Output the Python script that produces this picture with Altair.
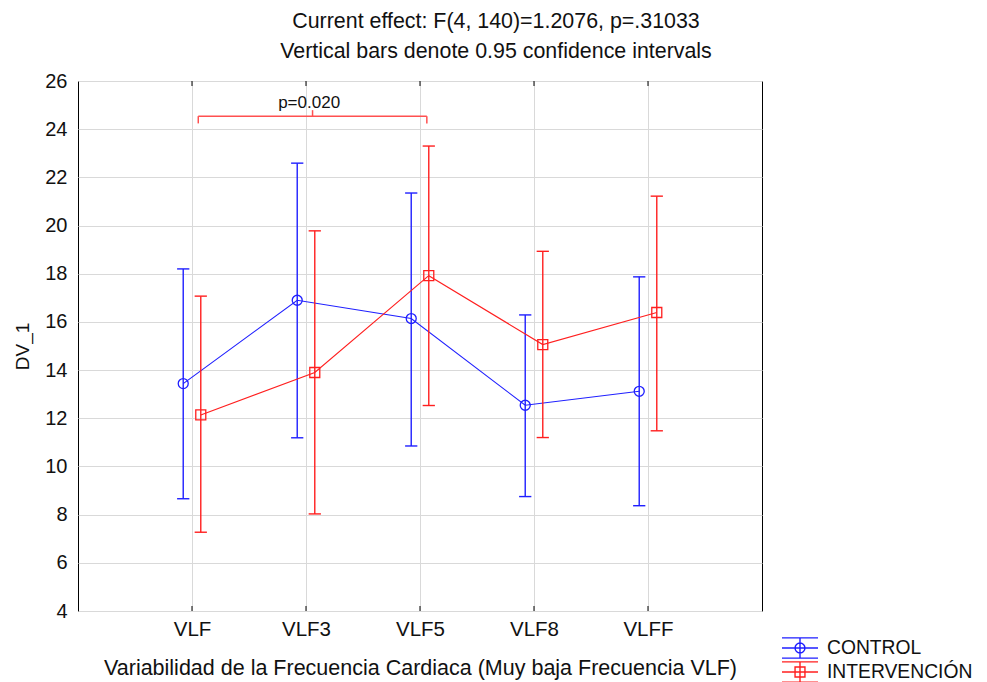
import altair as alt
import pandas as pd

# ---------------- data ----------------
categories = ["VLF", "VLF3", "VLF5", "VLF8", "VLFF"]
groups = ["CONTROL", "INTERVENCIÓN"]

control_mean = [13.44, 16.90, 16.14, 12.54, 13.12]
control_low = [8.66, 11.19, 10.85, 8.75, 8.37]
control_high = [18.20, 22.59, 21.35, 16.29, 17.87]

interv_mean = [12.14, 13.90, 17.92, 15.06, 16.39]
interv_low = [7.27, 8.03, 12.53, 11.20, 11.48]
interv_high = [17.07, 19.78, 23.30, 18.93, 21.22]

y_ticks = [4, 6, 8, 10, 12, 14, 16, 18, 20, 22, 24, 26]

bracket_from = "VLF"
bracket_to = "VLF5"
bracket_level = 24.54
bracket_label = "p=0.020"

title_lines = ["Current effect: F(4, 140)=1.2076, p=.31033",
               "Vertical bars denote 0.95 confidence intervals"]
x_title = "Variabilidad de la Frecuencia Cardiaca (Muy baja Frecuencia VLF)"
y_title = "DV_1"

# ---------------- styling ----------------
FONT = "Liberation Sans"
BLUE = "#1f1fff"
RED = "#ff1f1f"
DODGE = 0.077
TXT = "#111111"

rows = []
for g, means, lows, highs, off in [
    (groups[0], control_mean, control_low, control_high, -DODGE),
    (groups[1], interv_mean, interv_low, interv_high, DODGE),
]:
    for i, c in enumerate(categories):
        rows.append({"group": g, "cat": c, "pos": i + 1 + off,
                     "mean": means[i], "low": lows[i], "high": highs[i]})
df = pd.DataFrame(rows)

n = len(categories)
x_scale = alt.Scale(domain=[0, n + 1], nice=False, zero=False)
y_scale = alt.Scale(domain=[y_ticks[0], y_ticks[-1]], nice=False, zero=False)
color_scale = alt.Scale(domain=groups, range=[BLUE, RED])

label_expr = "[" + ",".join(["''"] + [f"'{c}'" for c in categories] + ["''"]) + "][datum.value]"

x_enc = alt.X("pos:Q", scale=x_scale,
              axis=alt.Axis(values=list(range(1, n + 1)), labelExpr=label_expr,
                            title=x_title, grid=True, ticks=False, domain=False,
                            labelFontSize=20.5, titleFontSize=21.5,
                            labelPadding=8, titlePadding=18))
y_enc = alt.Y("mean:Q", scale=y_scale,
              axis=alt.Axis(values=y_ticks, title=y_title, grid=True, ticks=False,
                            domain=False, labelFontSize=20, titleFontSize=19,
                            labelPadding=11, titlePadding=12))

layers = []
group_style = [(groups[0], BLUE, "circle"), (groups[1], RED, "square")]
for gi, (g, col, shp) in enumerate(group_style):
    gbase = alt.Chart(df).transform_filter(alt.datum.group == g)
    line = gbase.mark_line(color=col, strokeWidth=1.1)
    line = line.encode(x=x_enc, y=y_enc) if gi == 0 else line.encode(x="pos:Q", y="mean:Q")
    bar = gbase.mark_rule(color=col, strokeWidth=1.4).encode(x="pos:Q", y="low:Q", y2="high:Q")
    cap_lo = gbase.mark_point(shape="M-1,0H1", size=150, color=col, strokeWidth=1.4,
                              opacity=1).encode(x="pos:Q", y="low:Q")
    cap_hi = gbase.mark_point(shape="M-1,0H1", size=150, color=col, strokeWidth=1.4,
                              opacity=1).encode(x="pos:Q", y="high:Q")
    mk = gbase.mark_point(shape=shp, size=100, color=col, strokeWidth=1.3, filled=False,
                          opacity=1).encode(x="pos:Q", y="mean:Q")
    layers += [line, bar, cap_lo, cap_hi, mk]

# legend layer (invisible marks, legend carries the symbols)
sym_ctrl = ("M-2,-1.12H2M-2,1.12H2M0,-1.12V1.12M-2,0H2"
            "M-0.55,0A0.55,0.55 0 1,0 0.55,0A0.55,0.55 0 1,0 -0.55,0")
sym_int = ("M-2,-1.12H2M-2,1.12H2M0,-1.12V1.12M-2,0H2"
           "M-0.55,-0.55H0.55V0.55H-0.55Z")
legend = alt.Legend(title=None, orient="none", legendX=703, legendY=555,
                    symbolSize=324, symbolStrokeWidth=1.4, symbolOpacity=1,
                    symbolFillColor="transparent", clipHeight=24, symbolOffset=9,
                    labelFont=FONT, labelFontSize=19.3, labelColor=TXT,
                    labelOffset=17, rowPadding=0, padding=0)
leg_layer = alt.Chart(df).transform_filter(alt.datum.cat == categories[0]).mark_point(
    opacity=0, filled=False).encode(
    x="pos:Q", y="mean:Q",
    color=alt.Color("group:N", scale=color_scale, legend=legend),
    shape=alt.Shape("group:N", scale=alt.Scale(domain=groups, range=[sym_ctrl, sym_int]),
                    legend=legend))
layers.append(leg_layer)

# inward tick marks on bottom and top borders
tick_df = pd.DataFrame({"pos": list(range(1, n + 1))})
tick_df["bottom"] = y_ticks[0]
tick_df["top"] = y_ticks[-1]
layers.append(alt.Chart(tick_df).mark_point(shape="M0,0V-1", size=100, color="black",
                                            strokeWidth=1, opacity=1).encode(x="pos:Q", y="bottom:Q"))
layers.append(alt.Chart(tick_df).mark_point(shape="M0,0V1", size=100, color="black",
                                            strokeWidth=1, opacity=1).encode(x="pos:Q", y="top:Q"))

# significance bracket
bx1 = categories.index(bracket_from) + 1 + 0.055
bx2 = categories.index(bracket_to) + 1 + 0.06
bmid = (bx1 + bx2) / 2
br_df = pd.DataFrame({
    "x": [bx1, bx1, bx2, bmid],
    "x2": [bx2, bx1, bx2, bmid],
    "y": [bracket_level] * 4,
    "y2": [bracket_level, bracket_level - 0.3, bracket_level - 0.3, bracket_level + 0.25],
})
layers.append(alt.Chart(br_df).mark_rule(color="#ff5050", strokeWidth=1.5).encode(
    x="x:Q", x2="x2:Q", y="y:Q", y2="y2:Q"))
layers.append(alt.Chart(pd.DataFrame({"x": [bmid - 0.03], "y": [bracket_level + 0.33],
                                      "t": [bracket_label]})).mark_text(
    font=FONT, fontSize=17, color=TXT, baseline="alphabetic").encode(
    x="x:Q", y="y:Q", text="t:N"))

chart = alt.layer(*layers).properties(
    width=684, height=530,
    autosize=alt.AutoSizeParams(type="none"),
    padding={"left": 70, "top": 73, "right": 217, "bottom": 71},
    title=alt.Title(title_lines, fontSize=21.4, fontWeight="normal", font=FONT,
                    color=TXT, lineHeight=30, anchor="middle", dx=76, offset=9),
).configure_view(stroke="black", strokeWidth=1).configure_axis(
    labelFont=FONT, titleFont=FONT, titleFontWeight="normal",
    labelColor=TXT, titleColor=TXT, gridColor="#d9d9d9", gridWidth=1)

chart.save("out.html", embed_options={"renderer": "svg", "actions": False})
